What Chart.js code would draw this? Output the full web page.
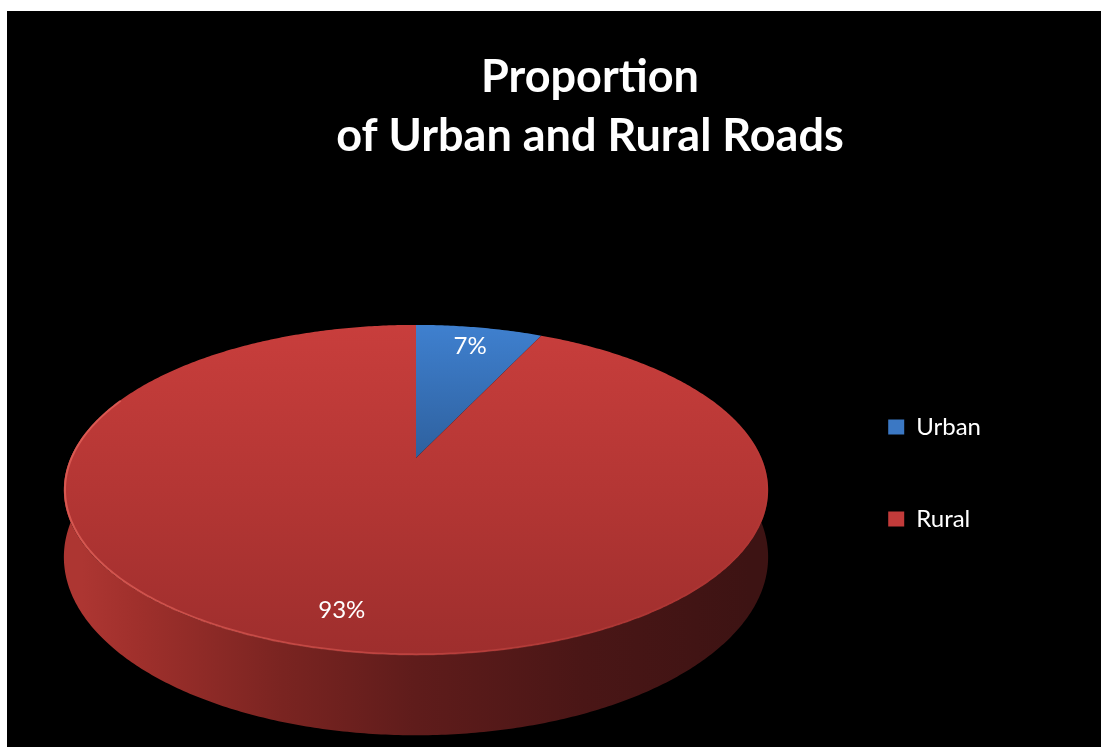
<!DOCTYPE html>
<html>
<head>
<meta charset="utf-8">
<title>Proportion of Urban and Rural Roads</title>
<script src="https://cdn.jsdelivr.net/npm/chart.js@4.4.1/dist/chart.umd.min.js"></script>
<style>
  html, body { margin: 0; padding: 0; background: #fff; }
  #roadsChart { position: absolute; left: 7px; top: 11px; background: #000; }
</style>
</head>
<body>
<canvas id="roadsChart" width="1094" height="736"></canvas>
<script>
const titleLines = ["Proportion", "of Urban and Rural Roads"];
const roadTypes = ["Urban", "Rural"];
const roadShares = [7, 93];
const sliceColors = ["#3b78c4", "#c23b3a"];

// top face shading, back edge -> front edge
const faceShades = [
  [[0, "#3f80cf"], [0.42, "#2d5f9c"], [1, "#1f4474"]],
  [[0, "#c83e3c"], [0.5, "#b43634"], [1, "#9e2e2d"]]
];
// side wall shading, left -> right
const sideShades = [
  [[0, "#2f5f9c"], [0.5, "#1c3a62"], [1, "#10233d"]],
  [[0, "#ad3632"], [0.08, "#a0302c"], [0.3, "#7a2421"], [0.5, "#5f1c1b"], [0.75, "#4a1616"], [1, "#3d1313"]]
];

// how the flat pie is laid down as a tilted disk
const diskView = {
  offsetX: 227,     // disk centre, from the chart area's top-left
  offsetY: 281,
  zoom: 1.212,      // drawn radius / element radius
  tilt: 0.46,       // squash of the top face
  persp: 0.194,     // near edge grows, far edge shrinks
  depth: 0.187,     // wall height as a share of the radius
  labelRadius: 0.83
};

function projector(arc, area) {
  const A = arc.outerRadius * diskView.zoom;
  const B = A * diskView.tilt;
  const H = A * diskView.depth;
  const k = diskView.persp;
  const cx = area.left + diskView.offsetX;
  const cy = area.top + diskView.offsetY;
  return function (angle, r, drop) {
    const u = r * Math.cos(angle);
    const v = -r * Math.sin(angle);
    const w = 1 + k * v;
    return { x: cx + A * u / w, y: cy - B * v / w + (drop ? H / w : 0) };
  };
}

// parts of a slice that face the viewer (wall is visible there)
function frontSpans(start, end) {
  const lo = -0.4, hi = Math.PI + 0.4;
  const spans = [];
  [-2 * Math.PI, 0, 2 * Math.PI].forEach(off => {
    const a = Math.max(start + off, lo);
    const b = Math.min(end + off, hi);
    if (b > a) spans.push([a, b]);
  });
  return spans;
}

function makeGradient(ctx, x0, y0, x1, y1, stops) {
  const g = ctx.createLinearGradient(x0, y0, x1, y1);
  stops.forEach(s => g.addColorStop(s[0], s[1]));
  return g;
}

const disk3d = {
  id: "disk3d",
  beforeDatasetsDraw(chart) {
    const ctx = chart.ctx;
    const arcs = chart.getDatasetMeta(0).data;
    if (!arcs.length) return false;
    const at = projector(arcs[0], chart.chartArea);
    const step = 0.01;

    const back = at(-Math.PI / 2, 1, false);
    const front = at(Math.PI / 2, 1, false);
    const leftX = at(Math.PI + 0.2, 1, true).x - 8;
    const rightX = at(-0.2, 1, true).x + 8;

    ctx.save();

    // side wall
    arcs.forEach((arc, i) => {
      frontSpans(arc.startAngle, arc.endAngle).forEach(([a, b]) => {
        ctx.beginPath();
        for (let t = a; t < b; t += step) {
          const p = at(t, 1, false);
          ctx.lineTo(p.x, p.y);
        }
        let p = at(b, 1, false);
        ctx.lineTo(p.x, p.y);
        for (let t = b; t > a; t -= step) {
          p = at(t, 1, true);
          ctx.lineTo(p.x, p.y);
        }
        p = at(a, 1, true);
        ctx.lineTo(p.x, p.y);
        ctx.closePath();
        ctx.fillStyle = makeGradient(ctx, leftX, 0, rightX, 0, sideShades[i]);
        ctx.fill();
      });
    });

    // top faces
    arcs.forEach((arc, i) => {
      ctx.beginPath();
      const c = at(0, 0, false);
      ctx.moveTo(c.x, c.y);
      for (let t = arc.startAngle; t < arc.endAngle; t += step) {
        const p = at(t, 1, false);
        ctx.lineTo(p.x, p.y);
      }
      const e = at(arc.endAngle, 1, false);
      ctx.lineTo(e.x, e.y);
      ctx.closePath();
      ctx.fillStyle = makeGradient(ctx, 0, back.y, 0, front.y, faceShades[i]);
      ctx.fill();
    });

    // light rim along the near edge of the top face
    const rim = ctx.createLinearGradient(leftX, 0, rightX, 0);
    rim.addColorStop(0, "rgba(240,110,100,0.6)");
    rim.addColorStop(0.5, "rgba(225,90,84,0.45)");
    rim.addColorStop(1, "rgba(200,70,65,0.1)");
    arcs.forEach(arc => {
      frontSpans(arc.startAngle, arc.endAngle).forEach(([a, b]) => {
        ctx.beginPath();
        for (let t = a; t <= b; t += step) {
          const p = at(t, 0.997, false);
          ctx.lineTo(p.x, p.y);
        }
        ctx.strokeStyle = rim;
        ctx.lineWidth = 2;
        ctx.stroke();
      });
    });

    // percentage labels
    const total = roadShares.reduce((s, v) => s + v, 0);
    ctx.fillStyle = "#ffffff";
    ctx.font = "24px Lato";
    ctx.textAlign = "center";
    ctx.textBaseline = "middle";
    arcs.forEach((arc, i) => {
      const mid = (arc.startAngle + arc.endAngle) / 2;
      const p = at(mid, diskView.labelRadius, false);
      ctx.fillText(Math.round(roadShares[i] / total * 100) + "%", p.x, p.y);
    });

    ctx.restore();
    return false;
  }
};

function drawChart() {
  const ctx = document.getElementById("roadsChart").getContext("2d");
  new Chart(ctx, {
    type: "pie",
    data: {
      labels: roadTypes,
      datasets: [{
        data: roadShares,
        backgroundColor: sliceColors,
        borderWidth: 0
      }]
    },
    options: {
      responsive: false,
      animation: false,
      events: [],
      layout: { padding: { left: 182, right: 110, top: 0, bottom: 0 } },
      plugins: {
        title: {
          display: true,
          text: titleLines,
          color: "#ffffff",
          font: { family: "Lato", weight: "bold", size: 45, lineHeight: 1.333 },
          padding: { top: 36, bottom: 10 }
        },
        legend: {
          position: "right",
          align: "center",
          title: { display: true, text: "", font: { size: 12, lineHeight: 1 }, padding: { top: 0, bottom: 176 } },
          labels: {
            color: "#ffffff",
            font: { family: "Lato", size: 24 },
            boxWidth: 16,
            boxHeight: 15,
            padding: 68
          }
        },
        tooltip: { enabled: false }
      }
    },
    plugins: [disk3d]
  });
}

Promise.all([
  document.fonts.load("bold 45px Lato"),
  document.fonts.load("24px Lato")
]).then(drawChart, drawChart);
</script>
</body>
</html>
